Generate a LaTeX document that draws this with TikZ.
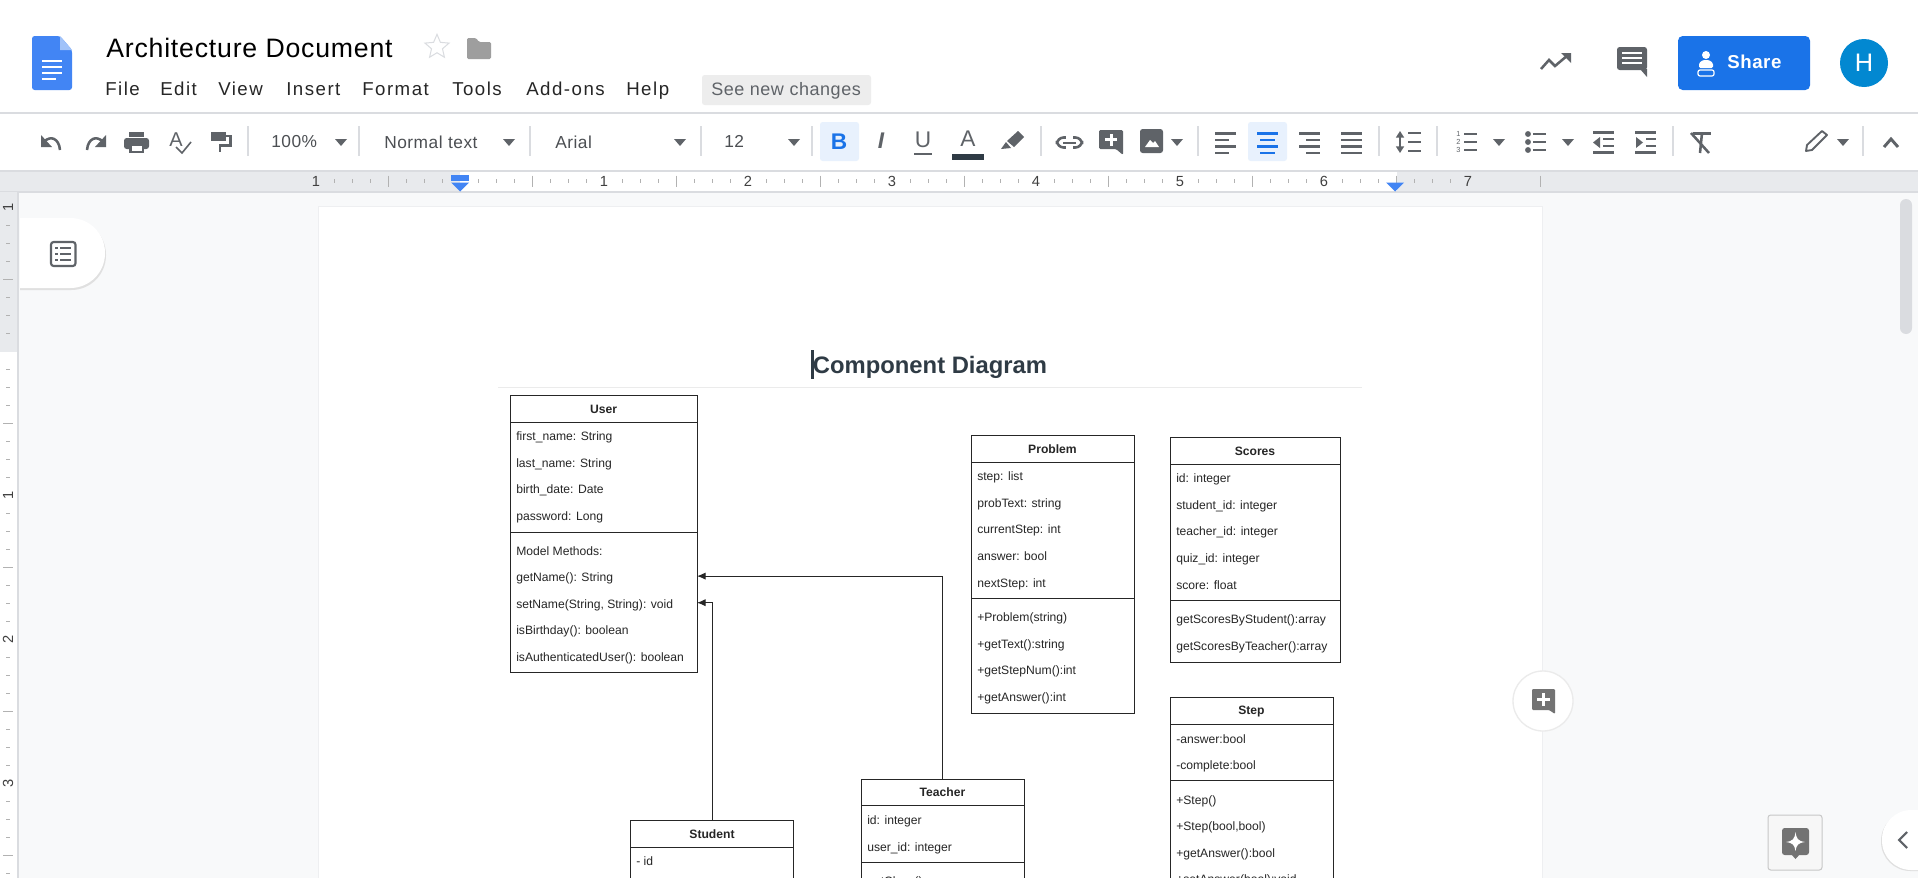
\documentclass[tikz,border=0pt]{standalone}
\usepackage{fontspec}
\setmainfont{Liberation Sans}
\newfontfamily\uifont[LetterSpace=8]{Liberation Sans}
\newfontfamily\toolfont[LetterSpace=3]{Liberation Sans}
\newfontfamily\doctitlefont[LetterSpace=3]{Liberation Sans}
\usetikzlibrary{positioning, shapes.geometric, arrows.meta}

\definecolor{uigray}{HTML}{5F6368}
\definecolor{rulergray}{HTML}{E8EAED}
\definecolor{edgegray}{HTML}{DADCE0}
\definecolor{canvasgray}{HTML}{F8F9FA}
\definecolor{activeblue}{HTML}{1A73E8}
\definecolor{docblue}{HTML}{4285F4}
\definecolor{avatarblue}{HTML}{0288D1}
\definecolor{headingdark}{HTML}{2F3B45}

\tikzset{
  classbox/.style={draw=black!85, line width=.75pt, rectangle, anchor=north west, inner sep=0pt, outer sep=0pt},
  classtitle/.style={font=\fontsize{9.1pt}{11pt}\selectfont\bfseries, inner sep=0pt, text=black!85},
  member/.style={anchor=west, font=\fontsize{9.1pt}{11pt}\selectfont, inner sep=0pt, text height=9.5pt, text depth=1pt, text=black!85},
  menuitem/.style={anchor=west, font=\fontsize{14pt}{16pt}\uifont, inner sep=0pt, text height=10pt, text depth=0pt, text=black!85},
  toolitem/.style={anchor=west, font=\fontsize{13pt}{16pt}\toolfont, inner sep=0pt, text height=9.5pt, text depth=0pt, text=uigray!80!black},
  toolglyph/.style={inner sep=0pt, text=uigray, font=\fontsize{17pt}{19pt}\selectfont\bfseries},
  rulernum/.style={font=\fontsize{11pt}{12pt}\selectfont, inner sep=0pt, text=black!75},
  toolsep/.style={draw=edgegray, line width=1pt},
  iconline/.style={draw=uigray, line width=1.9pt},
  connector/.style={draw=black!85, line width=.75pt, -{Latex[length=6.5pt,width=5.5pt]}},
  pics/dropdown/.style={code={\fill [uigray] (-6,-3) -- (6,-3) -- (0,4) -- cycle;}},
}

\begin{document}
\begin{tikzpicture}[x=.75pt, y=-.75pt, node distance=19.95pt]
  \clip (0,0) rectangle (1918,878);
  \useasboundingbox (0,0) rectangle (1918,878);

  % backgrounds
  \fill [white] (0,0) rectangle (1918,878);
  \fill [canvasgray] (18,192) rectangle (1918,878);
  \fill [rulergray] (0,171) rectangle (1918,191);
  \fill [white] (460,171) rectangle (1397,191);
  \fill [edgegray] (0,112) rectangle (1918,114);
  \fill [edgegray] (0,169.5) rectangle (1918,171.5);
  \fill [edgegray] (0,190.5) rectangle (1918,192.5);
  \fill [rulergray] (0,192) rectangle (17,352);
  \fill [edgegray] (17,192) rectangle (19,878);
  \fill [white] (318,206) rectangle (1542,878);
  \draw [edgegray!45, line width=.75pt] (318,878) -- (318,206) -- (1542,206) -- (1542,878);
  \fill [edgegray, rounded corners=4.5pt] (1900,199) rectangle (1912,334);

  % horizontal ruler
  \foreach \tk in {-8,...,55} {
    \pgfmathtruncatemacro{\rest}{mod(\tk+16,8)}
    \pgfmathsetmacro{\tx}{460+18*\tk}
    \ifnum\rest=4
      \draw [black!30, line width=.75pt] (\tx,175.5) -- (\tx,187);
    \else\ifnum\rest=0\else
      \draw [black!30, line width=.75pt] (\tx,179) -- (\tx,183);
    \fi\fi
  }
  \draw [black!30, line width=.75pt] (1540,175.5) -- (1540,187);
  \node [rulernum] (hruler_back) at (316,181.5) {1};
  \node [rulernum] (hruler_1) at (604,181.5) {1};
  \node [rulernum] (hruler_2) at (748,181.5) {2};
  \node [rulernum] (hruler_3) at (892,181.5) {3};
  \node [rulernum] (hruler_4) at (1036,181.5) {4};
  \node [rulernum] (hruler_5) at (1180,181.5) {5};
  \node [rulernum] (hruler_6) at (1324,181.5) {6};
  \node [rulernum] (hruler_7) at (1468,181.5) {7};
  \fill [docblue] (451,175) rectangle (469,181);
  \fill [docblue] (451,182.5) -- (469,182.5) -- (460,191.5) -- cycle;
  \fill [docblue] (1386,182.5) -- (1404,182.5) -- (1395,191.5) -- cycle;

  % vertical ruler
  \foreach \tk in {-7,...,29} {
    \pgfmathtruncatemacro{\rest}{mod(\tk+16,8)}
    \pgfmathsetmacro{\ty}{351+18*\tk}
    \ifnum\rest=4
      \draw [black!30, line width=.75pt] (3,\ty) -- (13,\ty);
    \else\ifnum\rest=0\else
      \draw [black!30, line width=.75pt] (6,\ty) -- (10,\ty);
    \fi\fi
  }
  \node [rulernum, rotate=90] (vruler_back) at (8,207) {1};
  \node [rulernum, rotate=90] (vruler_1) at (8,495) {1};
  \node [rulernum, rotate=90] (vruler_2) at (8,639) {2};
  \node [rulernum, rotate=90] (vruler_3) at (8,783) {3};

  % document header
  \fill [docblue, rounded corners=2pt] (32,36) -- (60,36) -- (72,50) -- (72,90) -- (32,90) -- cycle;
  \fill [docblue!50!white] (60,36) -- (72,50) -- (60,50) -- cycle;
  \foreach \ly/\lx in {61/62,67/62,73/62,79/56}
    \fill [white] (42,\ly-1.3) rectangle (\lx,\ly+1.3);
  \node [anchor=west, inner sep=0pt, font=\fontsize{20pt}{22pt}\doctitlefont, text=black] (doc_title) at (106,48) {Architecture Document};
  \node [star, star points=5, star point ratio=2.2, draw=edgegray, line width=.75pt, fill=white, minimum size=19pt, inner sep=0pt] (doc_star) at (437,47) {};
  \fill [black!38, rounded corners=1pt] (467,38) -- (476,38) -- (479,42) -- (491,42) -- (491,59) -- (467,59) -- cycle;

  % menu bar
  \node [menuitem] (menu_file) at (105,89) {File};
  \node [menuitem] (menu_edit) at (160,89) {Edit};
  \node [menuitem] (menu_view) at (218,89) {View};
  \node [menuitem] (menu_insert) at (286,89) {Insert};
  \node [menuitem] (menu_format) at (362,89) {Format};
  \node [menuitem] (menu_tools) at (452,89) {Tools};
  \node [menuitem] (menu_addons) at (526,89) {Add-ons};
  \node [menuitem] (menu_help) at (626,89) {Help};
  \fill [black!7, rounded corners=2pt] (702,75) rectangle (871,105);
  \node [toolitem, text=uigray, font=\fontsize{13.5pt}{16pt}\toolfont] (menu_changes) at (711,89) {See new changes};

  % top right controls
  \draw [iconline, line join=miter] (1541,69) -- (1549,60) -- (1555,66) -- (1568,55);
  \fill [uigray] (1561,53) -- (1571,53) -- (1571,63) -- cycle;
  \fill [uigray, rounded corners=2pt] (1617,47) rectangle (1647,70);
  \fill [uigray] (1640,69) -- (1647,69) -- (1647,77) -- cycle;
  \foreach \by in {53,58,63}
    \fill [white] (1622,\by-1.2) rectangle (1642,\by+1.2);
  \fill [activeblue, rounded corners=3.5pt] (1678,36) rectangle (1810,90);
  \fill [white] (1706,55) circle [radius=3pt];
  \fill [white, rounded corners=1pt] (1699,68) -- (1699,63) -- (1703,60) -- (1709,60) -- (1713,63) -- (1713,68) -- cycle;
  \draw [white, line width=.9pt, rounded corners=1.5pt] (1698,70) rectangle (1714,76);
  \node [anchor=west, inner sep=0pt, text=white, font=\fontsize{14pt}{16pt}\toolfont\bfseries] (share_label) at (1727,62) {Share};
  \node [circle, fill=avatarblue, minimum size=36pt, inner sep=0pt, text=white, font=\fontsize{19pt}{21pt}\selectfont] (avatar) at (1864,63) {H};

  % toolbar separators
  \foreach \sx in {248,359,530,701,812,1041,1198,1379,1437,1673,1863}
    \draw [toolsep] (\sx,126) -- (\sx,156);
  \fill [activeblue!10!white, rounded corners=2pt] (820,122) rectangle (859,161);
  \fill [activeblue!10!white, rounded corners=2pt] (1248,122) rectangle (1287,161);

  % undo, redo, print, spelling, paint
  \draw [iconline] (60,150) .. controls (59,138) and (50,135) .. (44,142);
  \fill [uigray] (41,135) -- (41,147) -- (52,147) -- cycle;
  \draw [iconline] (87,150) .. controls (88,138) and (97,135) .. (103,142);
  \fill [uigray] (106,135) -- (106,147) -- (95,147) -- cycle;
  \fill [uigray] (129,132) rectangle (144,137);
  \fill [uigray, rounded corners=2pt] (124,138) rectangle (149,149);
  \fill [uigray] (129,145) rectangle (144,153);
  \fill [white] (131.5,146) rectangle (141.5,151);
  \node [toolglyph, font=\fontsize{15pt}{17pt}\selectfont] (spell_letter) at (176,140) {A};
  \draw [iconline, line width=1.2pt] (176,147) -- (182,153) -- (191,142);
  \fill [uigray] (211,132) rectangle (226,141);
  \draw [iconline] (226,136) -- (230.5,136) -- (230.5,145.5) -- (220,145.5) -- (220,152);

  % font controls
  \node [toolitem] (tool_zoom) at (271,141) {100\%};
  \pic at (341,142) {dropdown};
  \node [toolitem] (tool_style) at (384,142) {Normal text};
  \pic at (509,142) {dropdown};
  \node [toolitem] (tool_font) at (555,142) {Arial};
  \pic at (680,142) {dropdown};
  \node [toolitem] (tool_size) at (724,141) {12};
  \pic at (794,142) {dropdown};
  \node [toolglyph, text=activeblue] (tool_bold) at (839,142) {B};
  \node [toolglyph, font=\fontsize{17pt}{19pt}\selectfont\bfseries\itshape] (tool_italic) at (881,141) {I};
  \node [toolglyph, font=\fontsize{17pt}{19pt}\selectfont] (tool_underline) at (923,140) {U};
  \fill [uigray] (914,152.5) rectangle (932,155);
  \node [toolglyph, font=\fontsize{17pt}{19pt}\selectfont] (tool_color) at (968,139) {A};
  \fill [headingdark] (952,154) rectangle (984,160);

  % highlighter, link, comment, image
  \fill [uigray] (1018,131) -- (1024,137) -- (1014,147) -- (1007,141) -- cycle;
  \fill [uigray] (1006,142) -- (1011,148) -- (1001,149) -- cycle;
  \draw [iconline, rounded corners=5pt] (1057,137.5) rectangle (1082,147.5);
  \fill [white] (1066,136) rectangle (1073,149);
  \fill [uigray] (1063,141.5) rectangle (1076,143.5);
  \fill [uigray, rounded corners=1pt] (1099,130) -- (1123,130) -- (1123,155) -- (1116,149) -- (1099,149) -- cycle;
  \fill [white] (1109.5,133.5) rectangle (1112.5,145.5);
  \fill [white] (1105,138) rectangle (1117,141);
  \fill [uigray, rounded corners=2pt] (1140,129) rectangle (1163,153);
  \fill [white] (1145,147) -- (1150,140) -- (1153,143) -- (1155,141) -- (1159,147) -- cycle;
  \pic at (1177,142) {dropdown};

  % paragraph alignment
  \foreach \rw/\ry in {21/133.5,14/140,21/146.5,14/153}
    \fill [uigray] (1215,\ry-1.2) rectangle (1215+\rw,\ry+1.2);
  \foreach \rw/\ry in {21/133.5,15/140,21/146.5,15/153}
    \fill [activeblue] (1267.5-\rw/2,\ry-1.2) rectangle (1267.5+\rw/2,\ry+1.2);
  \foreach \rw/\ry in {21/133.5,14/140,21/146.5,14/153}
    \fill [uigray] (1320-\rw,\ry-1.2) rectangle (1320,\ry+1.2);
  \foreach \ry in {133.5,140,146.5,153}
    \fill [uigray] (1341,\ry-1.2) rectangle (1362,\ry+1.2);

  % line spacing, lists, indent
  \draw [iconline, line width=1.5pt, {Triangle[length=5pt,width=6pt]}-{Triangle[length=5pt,width=6pt]}] (1400,131) -- (1400,153);
  \foreach \ry in {133,142,151}
    \fill [uigray] (1408,\ry-1.2) rectangle (1421,\ry+1.2);
  \node [inner sep=0pt, text=uigray, font=\fontsize{5.5pt}{6pt}\selectfont] (list_one) at (1458.5,134) {1};
  \node [inner sep=0pt, text=uigray, font=\fontsize{5.5pt}{6pt}\selectfont] (list_two) at (1458.5,142) {2};
  \node [inner sep=0pt, text=uigray, font=\fontsize{5.5pt}{6pt}\selectfont] (list_three) at (1458.5,150) {3};
  \foreach \ry in {134,142,150} {
    \fill [uigray] (1464,\ry-1.2) rectangle (1477,\ry+1.2);
    \fill [uigray] (1528,\ry) circle [radius=2.2pt];
    \fill [uigray] (1533,\ry-1.2) rectangle (1546,\ry+1.2);
  }
  \pic at (1499,142) {dropdown};
  \pic at (1568,142) {dropdown};
  \foreach \ry in {132.5,152.5} {
    \fill [uigray] (1593,\ry-1.2) rectangle (1614,\ry+1.2);
    \fill [uigray] (1635,\ry-1.2) rectangle (1656,\ry+1.2);
  }
  \foreach \ry in {139,146} {
    \fill [uigray] (1603,\ry-1.2) rectangle (1614,\ry+1.2);
    \fill [uigray] (1646,\ry-1.2) rectangle (1656,\ry+1.2);
  }
  \fill [uigray] (1593,142.5) -- (1600,137) -- (1600,148) -- cycle;
  \fill [uigray] (1643,142.5) -- (1636,137) -- (1636,148) -- cycle;

  % clear format, pencil, collapse
  \fill [uigray] (1693,131.5) rectangle (1711,134.5);
  \draw [iconline] (1702,133) -- (1700,153);
  \draw [iconline] (1691,133) -- (1709,153);
  \draw [iconline, line width=1.4pt, line join=round] (1822,131) -- (1827,135) -- (1812,150) -- (1806,151) -- (1807,145) -- cycle;
  \pic at (1843,142) {dropdown};
  \draw [iconline, line width=2.2pt] (1884,147) -- (1891,139) -- (1898,147);

  % outline tab
  \begin{scope}
    \clip (20,205) rectangle (125,300);
    \fill [black!12, rounded corners=26pt] (-40,220) rectangle (106,290);
    \fill [white, rounded corners=26pt] (-40,218) rectangle (105,288);
  \end{scope}
  \draw [iconline, line width=1.6pt, rounded corners=2pt] (51,242) rectangle (75.5,266);
  \foreach \ry in {248,254,260} {
    \fill [uigray] (55,\ry-1.2) rectangle (58,\ry+1.2);
    \fill [uigray] (60,\ry-1.2) rectangle (71,\ry+1.2);
  }

  % class diagram
  \node [anchor=center, inner sep=0pt, font=\fontsize{17.85pt}{20pt}\selectfont\bfseries, text=headingdark] (diagram_title) at (930,367) {Component Diagram};
  \fill [black!8] (498,386.5) rectangle (1362,387.5);
  \fill [headingdark] (811,350) rectangle (813.5,379);

  % user
  \node [classbox, minimum width=140.25pt, minimum height=207.75pt] (user) at (510,395) {};
  \draw [line width=.75pt, draw=black!85] (user.west |- 0,422) -- (user.east |- 0,422);
  \draw [line width=.75pt, draw=black!85] (user.west |- 0,532) -- (user.east |- 0,532);
  \node [classtitle] (user_title) at (user.north |- 0,409) {User};
  \node [member] (user_first) at (516,435) {first\_name: String};
  \node [below=of user_first.west, member] (user_last) {last\_name: String};
  \node [below=of user_last.west, member] (user_birth) {birth\_date: Date};
  \node [below=of user_birth.west, member] (user_password) {password: Long};
  \node [member] (user_methods) at (516,549.5) {Model Methods:};
  \node [below=of user_methods.west, member] (user_getname) {getName(): String};
  \node [below=of user_getname.west, member] (user_setname) {setName(String, String): void};
  \node [below=of user_setname.west, member] (user_birthday) {isBirthday(): boolean};
  \node [below=of user_birthday.west, member] (user_auth) {isAuthenticatedUser(): boolean};

  % problem
  \node [classbox, minimum width=122.25pt, minimum height=208.5pt] (problem) at (971,435) {};
  \draw [line width=.75pt, draw=black!85] (problem.west |- 0,462) -- (problem.east |- 0,462);
  \draw [line width=.75pt, draw=black!85] (problem.west |- 0,598) -- (problem.east |- 0,598);
  \node [classtitle] (problem_title) at (problem.north |- 0,449) {Problem};
  \node [member] (problem_step) at (977,475) {step: list};
  \node [below=of problem_step.west, member] (problem_text) {probText: string};
  \node [below=of problem_text.west, member] (problem_current) {currentStep: int};
  \node [below=of problem_current.west, member] (problem_answer) {answer: bool};
  \node [below=of problem_answer.west, member] (problem_next) {nextStep: int};
  \node [member] (problem_init) at (977,616) {+Problem(string)};
  \node [below=of problem_init.west, member] (problem_gettext) {+getText():string};
  \node [below=of problem_gettext.west, member] (problem_getstep) {+getStepNum():int};
  \node [below=of problem_getstep.west, member] (problem_getanswer) {+getAnswer():int};

  % scores
  \node [classbox, minimum width=127.5pt, minimum height=168.75pt] (scores) at (1170,437) {};
  \draw [line width=.75pt, draw=black!85] (scores.west |- 0,464) -- (scores.east |- 0,464);
  \draw [line width=.75pt, draw=black!85] (scores.west |- 0,600) -- (scores.east |- 0,600);
  \node [classtitle] (scores_title) at (scores.north |- 0,451) {Scores};
  \node [member] (scores_id) at (1176,477) {id: integer};
  \node [below=of scores_id.west, member] (scores_student) {student\_id: integer};
  \node [below=of scores_student.west, member] (scores_teacher) {teacher\_id: integer};
  \node [below=of scores_teacher.west, member] (scores_quiz) {quiz\_id: integer};
  \node [below=of scores_quiz.west, member] (scores_score) {score: float};
  \node [member] (scores_bystudent) at (1176,618) {getScoresByStudent():array};
  \node [below=of scores_bystudent.west, member] (scores_byteacher) {getScoresByTeacher():array};

  % step
  \node [classbox, minimum width=122.25pt, minimum height=220pt] (stepclass) at (1170,697) {};
  \draw [line width=.75pt, draw=black!85] (stepclass.west |- 0,724) -- (stepclass.east |- 0,724);
  \draw [line width=.75pt, draw=black!85] (stepclass.west |- 0,780) -- (stepclass.east |- 0,780);
  \node [classtitle] (step_title) at (stepclass.north |- 0,712) {Step};
  \node [member] (step_answer) at (1176,737.5) {-answer:bool};
  \node [below=of step_answer.west, member] (step_complete) {-complete:bool};
  \node [member] (step_init) at (1176,798.5) {+Step()};
  \node [below=of step_init.west, member] (step_initargs) {+Step(bool,bool)};
  \node [below=of step_initargs.west, member] (step_getanswer) {+getAnswer():bool};
  \node [below=of step_getanswer.west, member] (step_setanswer) {+setAnswer(bool):void};

  % teacher
  \node [classbox, minimum width=122.25pt, minimum height=120pt] (teacher) at (861,779) {};
  \draw [line width=.75pt, draw=black!85] (teacher.west |- 0,805.5) -- (teacher.east |- 0,805.5);
  \draw [line width=.75pt, draw=black!85] (teacher.west |- 0,862) -- (teacher.east |- 0,862);
  \node [classtitle] (teacher_title) at (teacher.north |- 0,792.5) {Teacher};
  \node [member] (teacher_id) at (867,819) {id: integer};
  \node [below=of teacher_id.west, member] (teacher_user) {user\_id: integer};
  \node [member] (teacher_class) at (867,879.5) {getClass():array};

  % student
  \node [classbox, minimum width=122.25pt, minimum height=90pt] (student) at (630.5,820.5) {};
  \draw [line width=.75pt, draw=black!85] (student.west |- 0,847) -- (student.east |- 0,847);
  \node [classtitle] (student_title) at (student.north |- 0,834) {Student};
  \node [member] (student_id) at (636,860) {- id};

  % inheritance
  \coordinate (user_in_teacher) at (user.east |- user_getname);
  \coordinate (user_in_student) at (user.east |- user_setname);
  \draw [connector] (teacher.north) |- (user_in_teacher);
  \draw [connector] (student.north) |- (user_in_student);

  % floating buttons
  \node [circle, fill=white, draw=black!8, line width=1pt, minimum size=45pt, inner sep=0pt] (add_comment) at (1543,701) {};
  \fill [black!55, rounded corners=.8pt] (1532,689) -- (1555,689) -- (1555,714) -- (1549,710) -- (1532,710) -- cycle;
  \fill [white] (1542,693) rectangle (1545,706);
  \fill [white] (1537,698) rectangle (1550,701);
  \filldraw [fill=black!3, draw=black!22, line width=.75pt, rounded corners=2pt] (1768,815) rectangle (1822,870);
  \fill [black!55, rounded corners=2pt] (1782,828) rectangle (1809,855);
  \fill [black!55] (1791,854) -- (1800,854) -- (1795.5,859) -- cycle;
  \fill [white] (1795.5,832) .. controls (1796.5,839) and (1798,841) .. (1805,842) .. controls (1798,843) and (1796.5,845) .. (1795.5,851) .. controls (1794.5,845) and (1793,843) .. (1786,842) .. controls (1793,841) and (1794.5,839) .. (1795.5,832) -- cycle;
  \fill [black!12, rounded corners=22pt] (1881,811.5) rectangle (1960,871);
  \fill [white, rounded corners=22pt] (1882,810) rectangle (1960,870);
  \draw [uigray, line width=1.6pt] (1907,832) -- (1899,840) -- (1907,848);
\end{tikzpicture}
\end{document}
